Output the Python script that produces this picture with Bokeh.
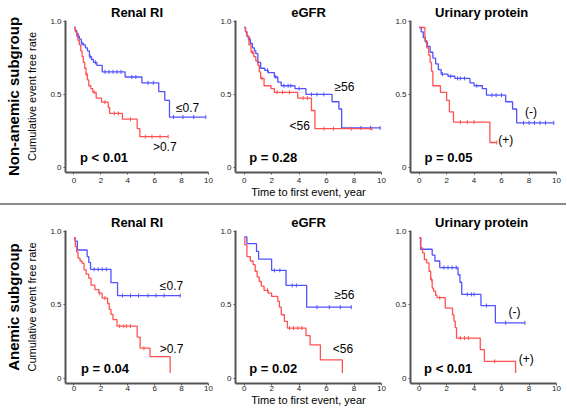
import numpy as np
from bokeh.plotting import figure
from bokeh.layouts import row, column
from bokeh.models import Range1d, FixedTicker, Title
from bokeh.embed import file_html
from bokeh.resources import INLINE
from bokeh.core.properties import value

# ---------------- data ----------------
titles = ["Renal RI", "eGFR", "Urinary  protein"]
row_labels = ["Non-anemic subgroup", "Anemic subgroup"]
p_values = ["p < 0.01", "p = 0.28", "p = 0.05", "p = 0.04", "p = 0.02", "p < 0.01"]
group_names = [["≤0.7", ">0.7"], ["≥56", "<56"], ["(-)", "(+)"]]
x_ticks = [0, 2, 4, 6, 8, 10]
y_ticks = [0, 0.5, 1.0]
y_tick_labels = ["0", "0.5", "1.0"]
x_label = "Time to first event, year"
y_label = "Cumulative event free rate"

# Non-anemic, Renal RI
p1_blue_t = [0, 0.1, 0.2, 0.3, 0.4, 0.55, 0.7, 0.85, 1.0, 1.15, 1.3, 1.45, 1.7, 2.1, 3.8, 5.05, 6.3, 6.75, 7.1, 9.8]
p1_blue_s = [0.96, 0.94, 0.92, 0.90, 0.88, 0.85, 0.84, 0.82, 0.80, 0.76, 0.74, 0.72, 0.70, 0.655, 0.62, 0.58, 0.52, 0.46, 0.345, 0.345]
p1_blue_c = [0.3, 0.6, 1.2, 1.6, 2.3, 2.6, 2.9, 3.2, 3.5, 4.3, 4.6, 5.5, 5.9, 7.4, 8.1, 8.9, 9.8]
p1_red_t = [0, 0.1, 0.2, 0.3, 0.4, 0.5, 0.6, 0.7, 0.8, 0.9, 1.0, 1.1, 1.25, 1.4, 1.65, 2.05, 2.55, 2.65, 3.6, 4.7, 4.9, 7.0]
p1_red_s = [0.96, 0.93, 0.90, 0.87, 0.84, 0.80, 0.76, 0.72, 0.68, 0.64, 0.60, 0.56, 0.54, 0.515, 0.475, 0.447, 0.41, 0.37, 0.33, 0.265, 0.21, 0.21]
p1_red_c = [0.9, 1.5, 2.3, 3.0, 3.3, 4.2, 5.3, 5.8, 6.4, 7.0]

# Non-anemic, eGFR
p2_blue_t = [0, 0.1, 0.2, 0.3, 0.45, 0.6, 0.75, 0.85, 1.0, 1.2, 1.5, 1.75, 2.2, 2.45, 2.7, 3.7, 4.5, 6.4, 6.9, 7.1, 9.9]
p2_blue_s = [0.96, 0.93, 0.90, 0.88, 0.85, 0.82, 0.80, 0.78, 0.72, 0.68, 0.665, 0.65, 0.62, 0.585, 0.56, 0.54, 0.50, 0.45, 0.40, 0.27, 0.27]
p2_blue_c = [0.4, 1.0, 1.7, 2.3, 2.9, 3.2, 3.4, 4.0, 4.9, 5.3, 5.8, 8.5, 9.2, 9.9]
p2_red_t = [0, 0.1, 0.2, 0.35, 0.5, 0.7, 0.85, 1.0, 1.1, 1.2, 1.45, 1.95, 2.2, 3.9, 4.9, 5.15, 9.3]
p2_red_s = [0.96, 0.93, 0.90, 0.84, 0.79, 0.76, 0.73, 0.70, 0.655, 0.61, 0.56, 0.54, 0.515, 0.475, 0.39, 0.265, 0.265]
p2_red_c = [0.6, 1.3, 2.4, 2.8, 3.3, 4.3, 4.6, 5.8, 6.5, 7.8, 9.3]

# Non-anemic, urinary protein
p3_blue_t = [0, 0.15, 0.3, 0.45, 0.6, 0.8, 1.0, 1.2, 1.4, 1.6, 2.1, 2.6, 3.7, 4.0, 4.6, 4.9, 6.3, 6.8, 7.1, 9.8]
p3_blue_s = [0.96, 0.93, 0.89, 0.86, 0.83, 0.79, 0.75, 0.71, 0.67, 0.64, 0.625, 0.61, 0.58, 0.56, 0.54, 0.495, 0.45, 0.40, 0.305, 0.305]
p3_blue_c = [1.7, 2.3, 2.8, 3.0, 3.3, 4.2, 5.3, 5.6, 6.0, 7.6, 8.0, 8.4, 8.8, 9.2, 9.8]
p3_red_t = [0, 0.42, 0.55, 0.7, 0.8, 0.9, 1.0, 1.55, 2.0, 2.2, 2.5, 5.15, 5.65]
p3_red_s = [0.96, 0.87, 0.82, 0.77, 0.72, 0.66, 0.56, 0.515, 0.46, 0.38, 0.31, 0.17, 0.17]
p3_red_c = [3.0, 3.5, 4.0, 5.65]

# Anemic, Renal RI
p4_blue_t = [0, 0.08, 0.25, 0.98, 1.1, 1.23, 2.75, 3.24, 7.9]
p4_blue_s = [0.96, 0.935, 0.875, 0.83, 0.79, 0.743, 0.652, 0.564, 0.564]
p4_blue_c = [1.5, 1.8, 2.1, 2.4, 3.6, 4.2, 4.8, 5.5, 6.1, 6.7, 7.9]
p4_red_t = [0, 0.1, 0.2, 0.3, 0.45, 0.6, 0.75, 0.9, 1.1, 1.27, 1.55, 1.85, 2.1, 2.5, 2.62, 2.75, 2.9, 3.2, 4.7, 4.92, 5.65, 7.15]
p4_red_s = [0.96, 0.90, 0.86, 0.82, 0.80, 0.785, 0.74, 0.71, 0.683, 0.635, 0.605, 0.58, 0.547, 0.51, 0.47, 0.435, 0.40, 0.355, 0.28, 0.205, 0.147, 0.035]
p4_red_c = [1.9, 2.3, 3.4, 3.7, 3.9, 4.2, 5.2]

# Anemic, eGFR
p5_blue_t = [0, 0.2, 0.9, 1.05, 2.0, 3.05, 4.55, 7.8]
p5_blue_s = [0.965, 0.918, 0.865, 0.813, 0.736, 0.633, 0.485, 0.485]
p5_blue_c = [2.2, 2.6, 3.5, 3.8, 5.3, 6.2, 7.0, 7.8]
p5_red_t = [0, 0.05, 0.2, 0.45, 0.65, 0.8, 0.95, 1.1, 1.25, 1.45, 1.75, 2.0, 2.45, 2.57, 2.7, 2.93, 3.15, 4.5, 4.8, 5.55, 7.15]
p5_red_s = [0.96, 0.91, 0.83, 0.80, 0.775, 0.73, 0.69, 0.66, 0.628, 0.60, 0.58, 0.558, 0.525, 0.485, 0.433, 0.388, 0.342, 0.29, 0.228, 0.125, 0.035]
p5_red_c = [1.7, 3.3, 3.6, 3.9, 4.2]

# Anemic, urinary protein
p6_blue_t = [0, 0.1, 0.95, 1.15, 1.5, 2.83, 2.97, 3.1, 4.5, 5.55, 7.7]
p6_blue_s = [0.96, 0.88, 0.84, 0.80, 0.755, 0.706, 0.655, 0.572, 0.496, 0.378, 0.378]
p6_blue_c = [1.8, 2.1, 2.4, 2.7, 3.5, 3.8, 4.0, 4.9, 6.3, 7.7]
p6_red_t = [0, 0.12, 0.25, 0.38, 0.55, 0.72, 0.84, 0.95, 1.05, 1.2, 1.3, 1.9, 2.43, 2.53, 2.63, 2.72, 4.45, 4.75, 7.02]
p6_red_s = [0.96, 0.89, 0.855, 0.81, 0.787, 0.73, 0.673, 0.615, 0.594, 0.565, 0.55, 0.479, 0.433, 0.39, 0.345, 0.274, 0.195, 0.115, 0.035]
p6_red_c = [0.9, 1.5, 3.0, 3.3, 3.6, 5.5]

curves = [
    (p1_blue_t, p1_blue_s, p1_blue_c, p1_red_t, p1_red_s, p1_red_c),
    (p2_blue_t, p2_blue_s, p2_blue_c, p2_red_t, p2_red_s, p2_red_c),
    (p3_blue_t, p3_blue_s, p3_blue_c, p3_red_t, p3_red_s, p3_red_c),
    (p4_blue_t, p4_blue_s, p4_blue_c, p4_red_t, p4_red_s, p4_red_c),
    (p5_blue_t, p5_blue_s, p5_blue_c, p5_red_t, p5_red_s, p5_red_c),
    (p6_blue_t, p6_blue_s, p6_blue_c, p6_red_t, p6_red_s, p6_red_c),
]

# ---------------- styling / placement ----------------
FONT = "Liberation Sans"
BLUE = "#5252ff"
RED = "#ff5252"
AXIS = "#555555"

# label positions (data units) per panel: blue label, red label, p-value anchor
label_pos = [
    ((8.45, 0.41), (6.75, 0.14), (0.45, 0.07)),
    ((7.3, 0.55), (4.05, 0.28), (0.37, 0.07)),
    ((8.15, 0.38), (6.3, 0.185), (0.39, 0.07)),
    ((7.25, 0.63), (7.25, 0.20), (0.52, 0.065)),
    ((7.3, 0.565), (7.2, 0.20), (0.37, 0.065)),
    ((6.95, 0.45), (7.8, 0.13), (0.36, 0.065)),
]

FRAME_W = 146
FRAME_H = [152, 153]
LEFT = [62, 22, 24]
RIGHT = [5, 5, 10]
TOP = [20, 25]
BOTTOM = [31, 25]
TOTAL_W = sum(LEFT) + sum(RIGHT) + 3 * FRAME_W


def surv_at(t, s, tc):
    t = np.asarray(t)
    s = np.asarray(s)
    idx = np.searchsorted(t, np.asarray(tc), side="right") - 1
    return s[np.clip(idx, 0, len(s) - 1)]


def make_panel(i):
    r, c = divmod(i, 3)
    w = LEFT[c] + FRAME_W + RIGHT[c]
    h = TOP[r] + FRAME_H[r] + BOTTOM[r]
    p = figure(width=w, height=h, x_range=Range1d(-0.63, 10.0), y_range=Range1d(-0.036, 1.008),
               output_backend="svg", toolbar_location=None, title=titles[c],
               min_border_left=LEFT[c], min_border_right=RIGHT[c],
               min_border_top=TOP[r], min_border_bottom=BOTTOM[r])
    p.outline_line_color = None
    p.xgrid.visible = False
    p.ygrid.visible = False
    p.background_fill_color = "white"
    p.border_fill_color = "white"
    p.title.align = "center"
    p.title.text_font = FONT
    p.title.text_font_size = "13px"
    p.title.text_font_style = "bold"
    p.title.text_color = "black"
    p.title.standoff = 2

    for ax in (p.xaxis[0], p.yaxis[0]):
        ax.axis_line_color = AXIS
        ax.axis_line_width = 2
        ax.major_tick_line_color = AXIS
        ax.major_tick_line_width = 1
        ax.major_tick_out = 2
        ax.major_tick_in = 0
        ax.minor_tick_line_color = None
        ax.major_label_text_font = FONT
        ax.major_label_text_font_size = "8px"
        ax.major_label_text_color = "#222222"
        ax.axis_label_text_font = FONT
        ax.axis_label_text_font_size = "11px"
        ax.axis_label_text_font_style = "normal"
        ax.axis_label_text_color = "black"
    p.xaxis.ticker = FixedTicker(ticks=x_ticks)
    p.yaxis.ticker = FixedTicker(ticks=y_ticks)
    p.yaxis.major_label_overrides = dict(zip(y_ticks, y_tick_labels))
    p.xaxis.major_label_standoff = 3 if r == 0 else 0
    p.yaxis.major_label_standoff = 2
    if c == 0:
        p.yaxis.axis_label = y_label
        p.yaxis.axis_label_standoff = 9
        side = Title(text=row_labels[r], align="center", text_font=FONT, text_font_size="15px",
                     text_font_style="bold", text_color="black", standoff=4)
        p.add_layout(side, "left")
    if c == 1:
        p.xaxis.axis_label = x_label
        p.xaxis.axis_label_standoff = 0

    bt, bs, bc, rt, rs, rc = curves[i]
    for t, s, cens, col in ((bt, bs, bc, BLUE), (rt, rs, rc, RED)):
        p.step(t, s, mode="after", line_color=col, line_width=1.3)
        p.scatter(cens, surv_at(t, s, cens), marker="dash", angle=np.pi / 2, size=4,
                  line_color=col, line_width=1)

    (bx, by), (rx, ry), (px, py) = label_pos[i]
    p.text(x=[bx, rx], y=[by, ry], text=group_names[c], text_font=value(FONT),
           text_font_size="12px", text_align="center", text_baseline="middle", text_color="black")
    p.text(x=[px], y=[py], text=[p_values[i]], text_font=value(FONT), text_font_size="13px",
           text_font_style="bold", text_align="left", text_baseline="middle", text_color="black")
    return p


panels = [make_panel(i) for i in range(6)]

top_row = row(*panels[:3])
# the grey rule between the two subgroups is drawn as the top border of the second row
bottom_row = row(*panels[3:], styles={"border-top": "2px solid #8c8c8c"})

layout = column(top_row, bottom_row)

open("out.html", "w").write(file_html(layout, INLINE))
